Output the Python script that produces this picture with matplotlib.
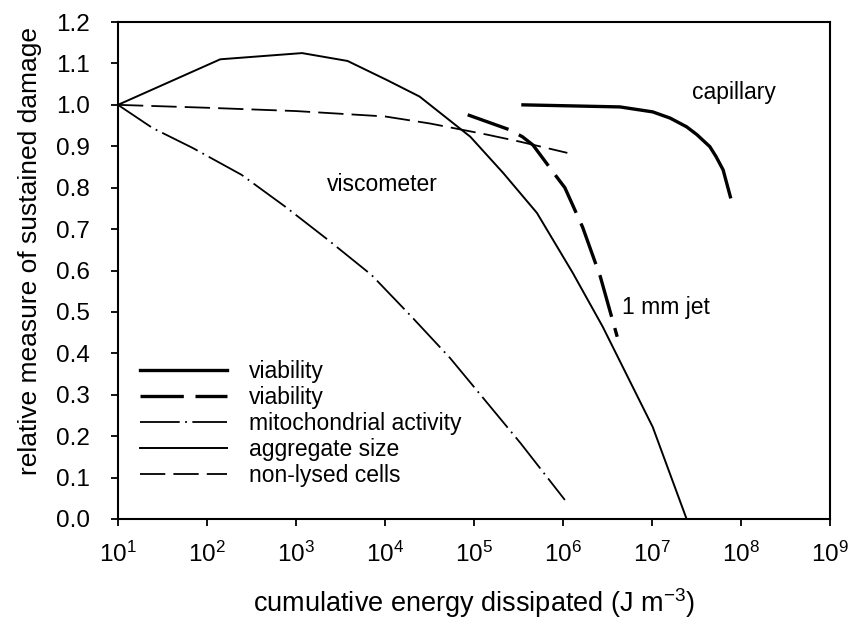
import matplotlib
matplotlib.use('Agg')
import matplotlib.pyplot as plt
from matplotlib.ticker import LogLocator, NullLocator

plt.rcParams['font.family'] = ['Liberation Sans', 'DejaVu Sans']
plt.rcParams['mathtext.fontset'] = 'custom'
plt.rcParams['mathtext.rm'] = 'Liberation Sans'
plt.rcParams['mathtext.it'] = 'Liberation Sans:italic'

# capillary viability
cap_e = [3.55e5, 4.37e6, 1.02e7, 1.6e7, 2.45e7, 3.2e7, 4.47e7, 5.25e7, 6.3e7, 7.6e7]
cap_y = [1.0, 0.995, 0.983, 0.968, 0.947, 0.928, 0.899, 0.875, 0.843, 0.778]

# 1 mm jet viability
jet_e = [8.5e4, 2.5e5, 3.5e5, 4.6e5, 8.5e5, 1.05e6, 1.66e6, 2.63e6, 4.07e6]
jet_y = [0.976, 0.94, 0.923, 0.903, 0.826, 0.80, 0.705, 0.585, 0.44]

# viscometer: mitochondrial activity
mito_e = [10, 24.5, 69, 245, 759, 2.29e3, 7.08e3, 2.0e4, 5.37e4, 3.31e5, 1.05e6]
mito_y = [1.0, 0.944, 0.896, 0.831, 0.754, 0.674, 0.589, 0.488, 0.389, 0.184, 0.046]

# viscometer: aggregate size
agg_e = [10, 141, 1.17e3, 3.8e3, 1.05e4, 2.45e4, 9.1e4, 2.14e5, 5.1e5, 1.29e6, 2.8e6, 1.02e7, 2.45e7]
agg_y = [1.0, 1.11, 1.125, 1.106, 1.06, 1.02, 0.923, 0.835, 0.739, 0.594, 0.464, 0.222, 0.0]

# viscometer: non-lysed cells
lys_e = [10, 100, 1e3, 1e4, 3.2e4, 1.41e5, 3.3e5, 1.12e6]
lys_y = [1.0, 0.993, 0.985, 0.972, 0.955, 0.928, 0.911, 0.884]

fig = plt.figure(figsize=(8.53, 6.24), dpi=100)
ax = fig.add_axes([0.1383, 0.1683, 0.8347, 0.7964])

ax.plot(cap_e, cap_y, color='black', lw=2.4, label='viability')
ax.plot(jet_e, jet_y, color='black', lw=2.4, dashes=(13, 3.5), label='viability')
ax.plot(mito_e, mito_y, color='black', lw=1.3, dashes=(22, 3, 1, 3), label='mitochondrial activity')
ax.plot(agg_e, agg_y, color='black', lw=1.4, label='aggregate size')
ax.plot(lys_e, lys_y, color='black', lw=1.3, dashes=(14, 4.5), label='non-lysed cells')

ax.set_xscale('log')
ax.set_xlim(10, 1e9)
ax.set_ylim(0, 1.2)
ax.xaxis.set_major_locator(LogLocator(base=10, numticks=20))
ax.xaxis.set_minor_locator(NullLocator())
ax.set_yticks([i / 10 for i in range(13)])
ax.set_yticklabels(['%.1f' % (i / 10) for i in range(13)])

for s in ax.spines.values():
    s.set_linewidth(1.5)
ax.tick_params(axis='both', direction='out', length=5, width=1.3, labelsize=17.5)
ax.tick_params(axis='y', pad=15)
ax.tick_params(axis='x', pad=11)

ax.set_xlabel('cumulative energy dissipated (J m$^{-3}$)', fontsize=19.5, labelpad=14)
ax.set_ylabel('relative measure of sustained damage', fontsize=19)
ax.yaxis.set_label_coords(-0.107, 0.539)

ax.text(9.3e3, 0.807, 'viscometer', fontsize=16.5, ha='center', va='center')
ax.text(8.3e7, 1.029, 'capillary', fontsize=16.5, ha='center', va='center')
ax.text(1.44e7, 0.51, '1 mm jet', fontsize=16.5, ha='center', va='center')

ax.legend(loc='upper left', bbox_to_anchor=(0.031, 0.32), frameon=False,
          fontsize=16.5, handlelength=3.8, handletextpad=0.95, labelspacing=0.13,
          borderpad=0, borderaxespad=0)

fig.savefig('out.png', dpi=100)
